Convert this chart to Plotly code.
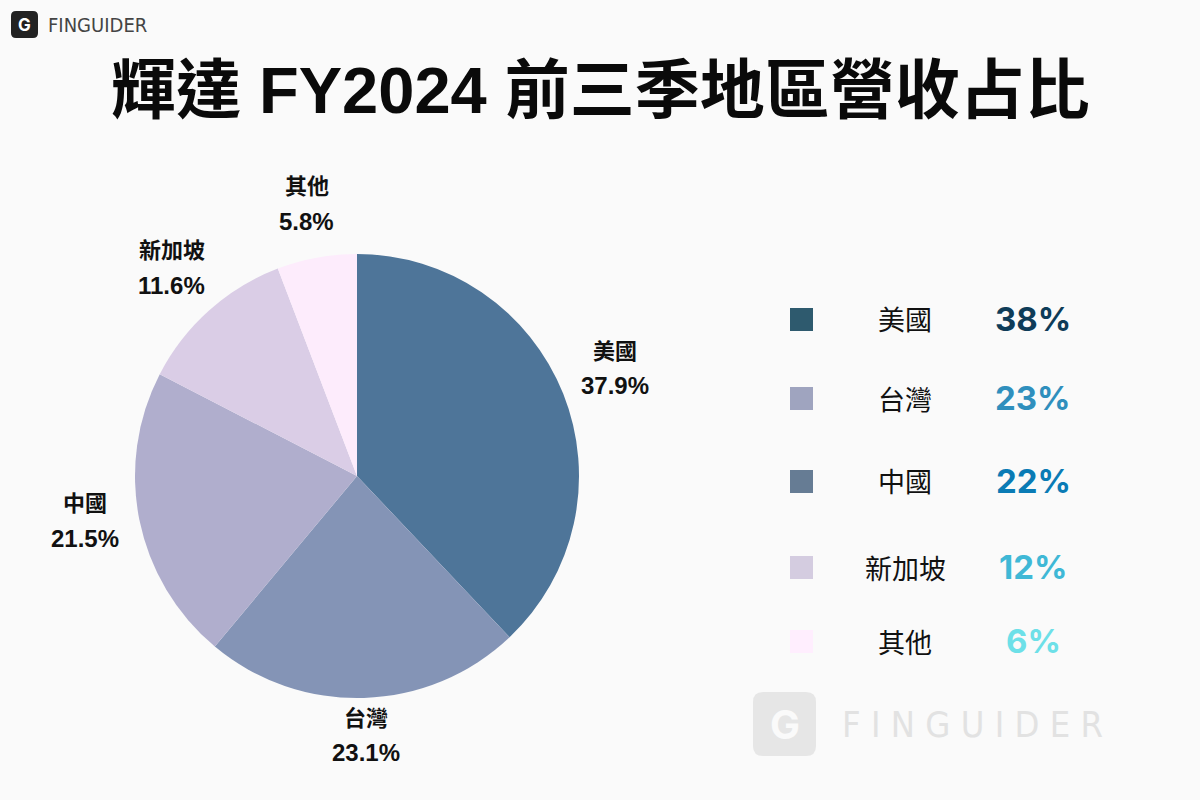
import math
import plotly.graph_objects as go

regions = ["美國", "台灣", "中國", "新加坡", "其他"]
shares = [37.9, 23.1, 21.5, 11.6, 5.8]
slice_colors = ["#4e7599", "#8494b6", "#b0aecd", "#dacde6", "#fdecfc"]

legend_labels = ["美國", "台灣", "中國", "新加坡", "其他"]
legend_pcts = ["38%", "23%", "22%", "12%", "6%"]
legend_square_colors = ["#2e5a6e", "#9fa4bf", "#667c94", "#d4cce0", "#ffeefe"]
legend_pct_colors = ["#0e3c58", "#2f8fbd", "#0a7bb5", "#3fb8d6", "#6de0e8"]
legend_rows_y = [319, 398, 481, 567, 641]

brand = "FINGUIDER"

W, H = 1200, 800
BG = "#fafafa"
TITLE_FONT = "Liberation Sans, Arial, Noto Sans CJK TC, sans-serif"
CJK = "Noto Sans CJK TC, Noto Sans, sans-serif"
LAT = "Inter, Noto Sans CJK TC, sans-serif"

cx, cy, r = 357, 476, 222


def px(x):
    return x / W


def py(y):
    return 1 - y / H


fig = go.Figure()
fig.add_trace(go.Pie(
    labels=regions,
    values=shares,
    sort=False,
    direction="clockwise",
    rotation=0,
    marker=dict(colors=slice_colors, line=dict(width=0)),
    textinfo="none",
    domain=dict(x=[px(cx - r), px(cx + r)], y=[py(cy + r), py(cy - r)]),
    showlegend=False,
    hoverinfo="label+percent",
))

shapes = []
annotations = []

# Outside slice labels, placed at each slice's mid-angle (derived from shares)
total = sum(shares)
cum = 0.0
rx_lab, ry_lab, lab_cy = 278, 268, cy - 10
for lab, v in zip(regions, shares):
    mid = (cum + v / 2) / total * 2 * math.pi
    cum += v
    lx = cx + rx_lab * math.sin(mid)
    ly = lab_cy - ry_lab * math.cos(mid)
    annotations.append(dict(text="<b>" + lab + "</b>", x=px(lx), y=py(ly - 18),
                            xref="paper", yref="paper", xanchor="center", yanchor="middle",
                            showarrow=False,
                            font=dict(family=CJK, size=22, color="#111111")))
    annotations.append(dict(text="<b>%.1f%%</b>" % v, x=px(lx), y=py(ly + 19),
                            xref="paper", yref="paper", xanchor="center", yanchor="middle",
                            showarrow=False,
                            font=dict(family=TITLE_FONT, size=24, color="#111111")))

# Title
annotations.append(dict(
    text="<b>輝達 FY2024 前三季地區營收占比</b>",
    x=0.5, y=py(90), xref="paper", yref="paper",
    xanchor="center", yanchor="middle", showarrow=False,
    font=dict(family=TITLE_FONT, size=65, color="#0a0a0a", weight=900),
))

# Custom legend
for lab, pct, sc, pc, yy in zip(legend_labels, legend_pcts, legend_square_colors,
                                 legend_pct_colors, legend_rows_y):
    shapes.append(dict(type="rect", xref="paper", yref="paper",
                       x0=px(790), x1=px(813), y0=py(yy + 12), y1=py(yy - 11),
                       fillcolor=sc, line=dict(width=0)))
    annotations.append(dict(text=lab, x=px(905), y=py(yy), xref="paper", yref="paper",
                            xanchor="center", yanchor="middle", showarrow=False,
                            font=dict(family=CJK, size=27, color="#111111")))
    annotations.append(dict(text="<b>" + pct + "</b>", x=px(1033), y=py(yy),
                            xref="paper", yref="paper", xanchor="center", yanchor="middle",
                            showarrow=False,
                            font=dict(family=LAT, size=33, color=pc)))


def rounded_rect(x0, y0, x1, y1, rad):
    pts = []
    pts.append("M %f,%f" % (px(x0 + rad), py(y0)))
    pts.append("L %f,%f" % (px(x1 - rad), py(y0)))
    pts.append("Q %f,%f %f,%f" % (px(x1), py(y0), px(x1), py(y0 + rad)))
    pts.append("L %f,%f" % (px(x1), py(y1 - rad)))
    pts.append("Q %f,%f %f,%f" % (px(x1), py(y1), px(x1 - rad), py(y1)))
    pts.append("L %f,%f" % (px(x0 + rad), py(y1)))
    pts.append("Q %f,%f %f,%f" % (px(x0), py(y1), px(x0), py(y1 - rad)))
    pts.append("L %f,%f" % (px(x0), py(y0 + rad)))
    pts.append("Q %f,%f %f,%f" % (px(x0), py(y0), px(x0 + rad), py(y0)))
    pts.append("Z")
    return " ".join(pts)


# Top-left logo
shapes.append(dict(type="path", xref="paper", yref="paper",
                   path=rounded_rect(11, 11, 38, 38, 5),
                   fillcolor="#222222", line=dict(width=0)))
annotations.append(dict(text="<b>G</b>", x=px(24.5), y=py(25), xref="paper", yref="paper",
                        xanchor="center", yanchor="middle", showarrow=False,
                        font=dict(family=LAT, size=17, color="#ffffff")))
annotations.append(dict(text=brand, x=px(46), y=py(25), xref="paper", yref="paper",
                        xanchor="left", yanchor="middle", showarrow=False,
                        font=dict(family="DejaVu Sans Condensed, sans-serif", size=20,
                                  color="#444444")))

# Bottom-right watermark
shapes.append(dict(type="path", xref="paper", yref="paper",
                   path=rounded_rect(753, 692, 816, 756, 10),
                   fillcolor="#e6e6e6", line=dict(width=0)))
annotations.append(dict(text="<b>G</b>", x=px(784.5), y=py(724), xref="paper", yref="paper",
                        xanchor="center", yanchor="middle", showarrow=False,
                        font=dict(family=LAT, size=40, color="#fafafa")))
annotations.append(dict(text=" ".join(brand), x=px(1105), y=py(724), xref="paper", yref="paper",
                        xanchor="right", yanchor="middle", showarrow=False,
                        font=dict(family="DejaVu Sans Condensed, sans-serif", size=36,
                                  color="#e2e2e2")))

fig.update_layout(
    width=W, height=H,
    margin=dict(l=0, r=0, t=0, b=0),
    paper_bgcolor=BG, plot_bgcolor=BG,
    shapes=shapes, annotations=annotations,
)

fig.write_html("out.html")
